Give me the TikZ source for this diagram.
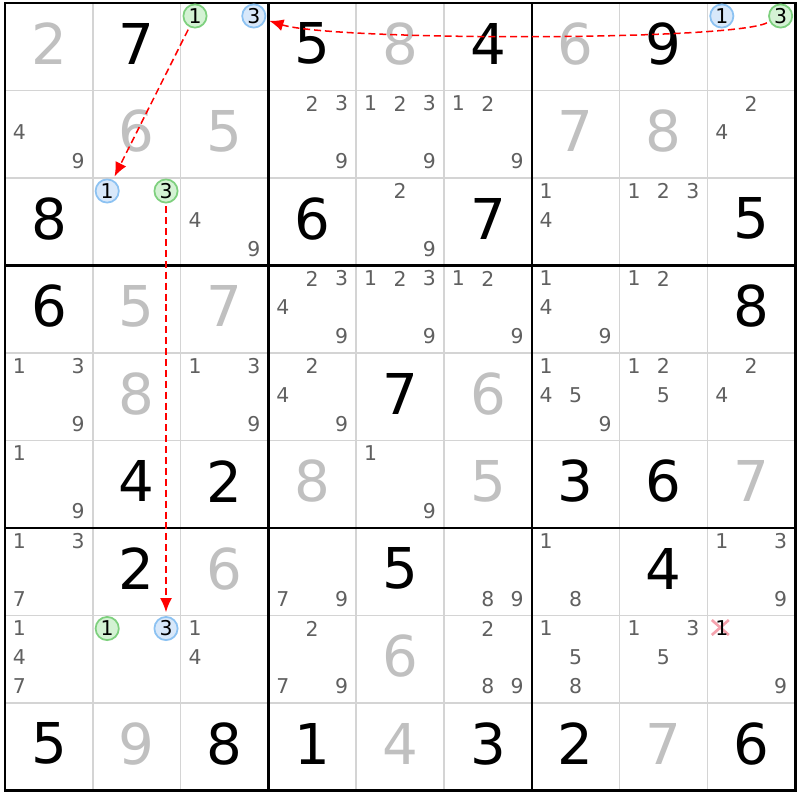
\documentclass[tikz,border=0pt]{standalone}
\usepackage{fontspec}
\setmainfont{DejaVu Sans}
\usetikzlibrary{arrows.meta}

\definecolor{solvedgray}{HTML}{C0C0C0}
\definecolor{candgray}{HTML}{606060}
\definecolor{gridgray}{HTML}{D4D4D4}
\definecolor{ringgreen}{HTML}{7ED07E}
\definecolor{ringgreenfill}{HTML}{D4F2D4}
\definecolor{ringblue}{HTML}{8CC2F2}
\definecolor{ringbluefill}{HTML}{D8E8FA}
\definecolor{crosspink}{HTML}{F5A3AE}

\tikzset{
  given/.style={font=\fontsize{16}{16}\selectfont, text=black, inner sep=0pt},
  solved/.style={given, text=solvedgray},
  cand/.style={font=\fontsize{5.8}{5.8}\selectfont, text=candgray, inner sep=0pt},
  ring/.style={circle, line width=0.5pt, minimum size=6.6pt, inner sep=0pt,
    font=\fontsize{5.8}{5.8}\selectfont, text=black},
  greenring/.style={ring, draw=ringgreen, fill=ringgreenfill},
  bluering/.style={ring, draw=ringblue, fill=ringbluefill},
  thinline/.style={gridgray, line width=0.43pt},
  boxline/.style={black, line width=0.7pt},
  link/.style={red, line width=0.43pt, dash pattern=on 2pt off 1.1pt,
    -{Latex[length=4pt,width=3.4pt]}, shorten <=0.8pt, shorten >=1.1pt},
  declare function={cellx(\c)=5+(\c-0.5)*87.8; celly(\r)=3+(\r-0.5)*87.5-3;
    candx(\c,\d)=5+(\c-1)*87.8+14.4+mod(\d-1,3)*29.4;
    candy(\r,\d)=3+(\r-1)*87.5+13+int((\d-1)/3)*29;}
}

\begin{document}
\begin{tikzpicture}[x=0.01cm, y=-0.01cm]
    \useasboundingbox (0,0) rectangle (800,800);
    \fill[white] (0,0) rectangle (800,800);
    \foreach \i in {1,2,4,5,7,8} {
      \draw[thinline] ({5+\i*87.8},3) -- ({5+\i*87.8},790.5);
      \draw[thinline] (5,{3+\i*87.5}) -- (795.2,{3+\i*87.5});
    }
    \foreach \i in {3,6} {
      \draw[boxline] ({5+\i*87.8},3) -- ({5+\i*87.8},790.5);
      \draw[boxline] (5,{3+\i*87.5}) -- (795.2,{3+\i*87.5});
    }
    \draw[black, line width=0.85pt] (5,3) rectangle (795.2,790.5);

    \foreach \r/\c/\d in {1/2/7, 1/4/5, 1/6/4, 1/8/9, 3/1/8, 3/4/6, 3/6/7, 3/9/5,
        4/1/6, 4/9/8, 5/5/7, 6/2/4, 6/3/2, 6/7/3, 6/8/6, 7/2/2, 7/5/5, 7/8/4,
        9/1/5, 9/3/8, 9/4/1, 9/6/3, 9/7/2, 9/9/6}
      \node[given] (g\r\c) at ({cellx(\c)},{celly(\r)}) {\d};
    \foreach \r/\c/\d in {1/1/2, 1/5/8, 1/7/6, 2/2/6, 2/3/5, 2/7/7, 2/8/8, 4/2/5,
        4/3/7, 5/2/8, 5/6/6, 6/4/8, 6/6/5, 6/9/7, 7/3/6, 8/5/6, 9/2/9, 9/5/4, 9/8/7}
      \node[solved] (g\r\c) at ({cellx(\c)},{celly(\r)}) {\d};

    \foreach \r/\c/\ds in {2/1/{4,9}, 2/4/{2,3,9}, 2/5/{1,2,3,9}, 2/6/{1,2,9}, 2/9/{2,4},
        3/3/{4,9}, 3/5/{2,9}, 3/7/{1,4}, 3/8/{1,2,3},
        4/4/{2,3,4,9}, 4/5/{1,2,3,9}, 4/6/{1,2,9}, 4/7/{1,4,9}, 4/8/{1,2},
        5/1/{1,3,9}, 5/3/{1,3,9}, 5/4/{2,4,9}, 5/7/{1,4,5,9}, 5/8/{1,2,5}, 5/9/{2,4},
        6/1/{1,9}, 6/5/{1,9},
        7/1/{1,3,7}, 7/4/{7,9}, 7/6/{8,9}, 7/7/{1,8}, 7/9/{1,3,9},
        8/1/{1,4,7}, 8/3/{1,4}, 8/4/{2,7,9}, 8/6/{2,8,9}, 8/7/{1,5,8}, 8/8/{1,3,5}, 8/9/{9}} {
      \foreach \d in \ds
        \node[cand] (k\r\c\d) at ({candx(\c,\d)},{candy(\r,\d)}) {\d};
    }

    \coordinate (x891) at ({candx(9,1)-1.5},{candy(8,1)-1});
    \draw[crosspink, line width=0.75pt] (x891) ++(-8.5,-7.5) -- ++(17,15);
    \draw[crosspink, line width=0.75pt] (x891) ++(8.5,-7.5) -- ++(-17,15);
    \node[cand, text=black] (k891) at ({candx(9,1)},{candy(8,1)}) {1};

    \foreach \r/\c/\d/\col in {1/3/1/greenring, 1/3/3/bluering, 1/9/1/bluering, 1/9/3/greenring,
        3/2/1/bluering, 3/2/3/greenring, 8/2/1/greenring, 8/2/3/bluering}
      \node[\col] (k\r\c\d) at ({candx(\c,\d)},{candy(\r,\d)}) {\d};

    \draw[link] (k131) -- (k321);
    \draw[link] (k323) -- (k823);
    \draw[link] (k193) .. controls +(-50,25) and +(80,25) .. (k133);
\end{tikzpicture}
\end{document}
